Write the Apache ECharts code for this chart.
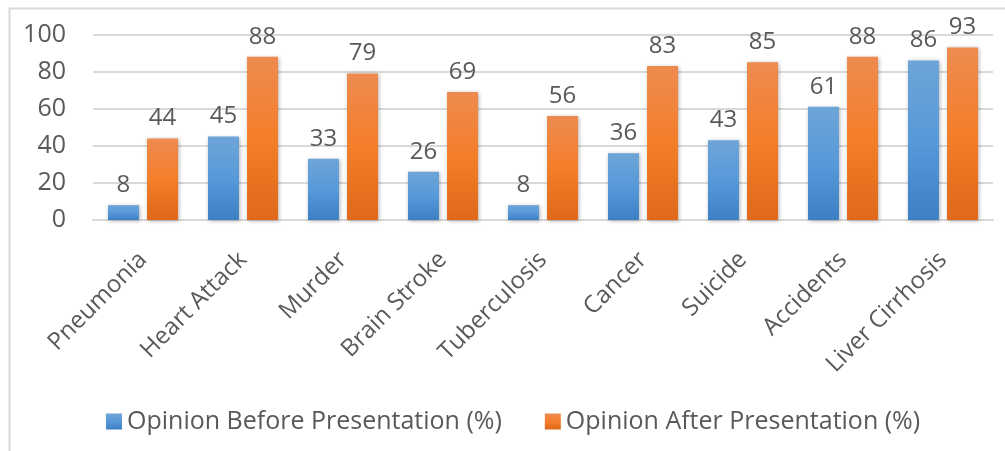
<!DOCTYPE html>
<html>
<head>
<meta charset="utf-8">
<script src="https://cdn.jsdelivr.net/npm/echarts@6/dist/echarts.min.js"></script>
<style>
html,body{margin:0;padding:0;background:#fff;}
#chart{width:1005px;height:451px;}
</style>
</head>
<body>
<div id="chart"></div>
<script>
const categories = ['Pneumonia','Heart Attack','Murder','Brain Stroke','Tuberculosis','Cancer','Suicide','Accidents','Liver Cirrhosis'];
const beforeValues = [8,45,33,26,8,36,43,61,86];
const afterValues = [44,88,79,69,56,83,85,88,93];
const seriesNames = ['Opinion Before Presentation (%)','Opinion After Presentation (%)'];
const yTicks = {min:0, max:100, interval:20};

const FONT = 'Open Sans';
const TXT = '#595959';

const blueGrad = {type:'linear',x:0,y:0,x2:0,y2:1,colorStops:[
  {offset:0,color:'#6ea5d8'},{offset:0.5,color:'#5799d9'},{offset:1,color:'#3e7fc5'}]};
const orangeGrad = {type:'linear',x:0,y:0,x2:0,y2:1,colorStops:[
  {offset:0,color:'#ee8b50'},{offset:0.5,color:'#f47e2a'},{offset:1,color:'#e0681a'}]};

const chart = echarts.init(document.getElementById('chart'));
const labelCfg = {show:true, position:'top', distance:8, color:TXT, fontFamily:FONT, fontSize:24};
chart.setOption({
  animation:false,
  backgroundColor:'#fff',
  graphic:[{type:'rect', left:7, top:6, shape:{width:1100,height:500}, style:{fill:'none', stroke:'#d9d9d9', lineWidth:2}, silent:true}],
  grid:{left:93, right:12, top:34.5, bottom:231},
  legend:{
    top:404, left:101, itemWidth:16, itemHeight:16, itemGap:43,
    icon:'rect',
    textStyle:{color:TXT, fontFamily:FONT, fontSize:25},
    data:seriesNames
  },
  xAxis:{
    type:'category', data:categories,
    axisLine:{show:true, lineStyle:{color:'#d9d9d9', width:2}},
    axisTick:{show:false},
    axisLabel:{rotate:45, margin:36, color:TXT, fontFamily:FONT, fontSize:24, interval:0}
  },
  yAxis:{
    type:'value', min:yTicks.min, max:yTicks.max, interval:yTicks.interval,
    axisLine:{show:false}, axisTick:{show:false},
    splitLine:{lineStyle:{color:'#d9d9d9', width:2}},
    axisLabel:{margin:27, color:TXT, fontFamily:FONT, fontSize:25}
  },
  series:[
    {name:seriesNames[0], type:'bar', data:beforeValues, barWidth:31, barGap:'26%',
     itemStyle:{color:blueGrad, shadowBlur:4, shadowColor:'rgba(0,0,0,0.3)', shadowOffsetX:1, shadowOffsetY:1},
     label:labelCfg},
    {name:seriesNames[1], type:'bar', data:afterValues, barWidth:31, barGap:'26%',
     itemStyle:{color:orangeGrad, shadowBlur:4, shadowColor:'rgba(0,0,0,0.3)', shadowOffsetX:1, shadowOffsetY:1},
     label:labelCfg}
  ]
});
</script>
</body>
</html>
